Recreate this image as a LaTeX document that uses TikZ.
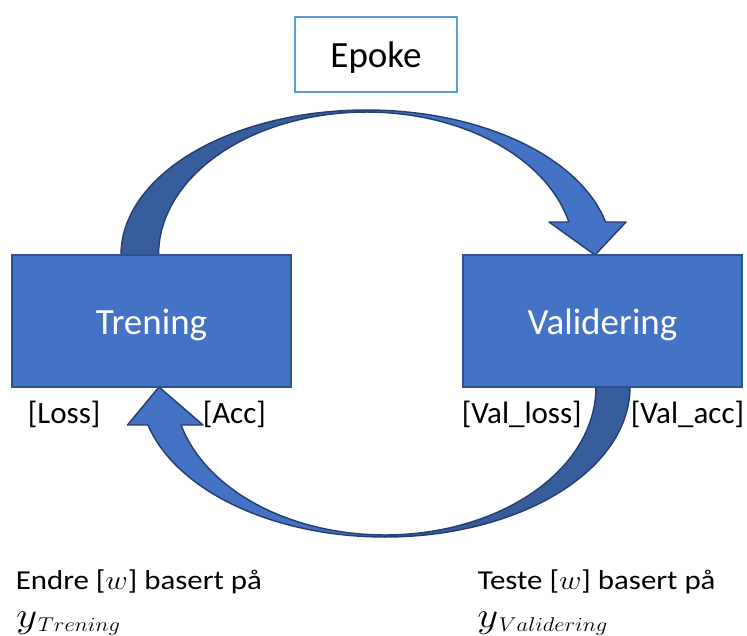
\RequirePackage{fix-cm}
\documentclass[tikz,border=0pt]{standalone}
\usepackage{graphicx}
\usepackage{fontspec}
\setmainfont{Carlito}
\definecolor{boxfill}{HTML}{4472C4}
\definecolor{boxline}{HTML}{2F528F}
\definecolor{arrowlight}{HTML}{4472C4}
\definecolor{arrowdark}{HTML}{385D9D}
\definecolor{arrowline}{HTML}{243F73}
\definecolor{epokeline}{HTML}{5B9BD5}
% slightly widened note text, with a lowered subscript for the y-lines
\newcommand{\widenote}[1]{\scalebox{1.13}[1]{\fontsize{20.5}{25}\selectfont #1}}
\newcommand{\ysubnote}[1]{\scalebox{1.13}[1]{%
  {\fontsize{27}{32}\selectfont$y$}\kern0.5pt%
  \lower3.5pt\hbox{\fontsize{15}{18}\selectfont$#1$}}}
\tikzset{
  procbox/.style={draw=boxline, line width=1.1pt, fill=boxfill, text=white,
    minimum width=209.25pt, minimum height=99pt, inner sep=0pt,
    text height=19.5pt, text depth=0pt,
    font=\fontsize{27.75}{33}\selectfont},
  epokebox/.style={draw=epokeline, line width=1.5pt, fill=white, text=black,
    minimum width=121.5pt, minimum height=56.25pt, inner sep=0pt,
    text height=19.5pt, text depth=0pt,
    font=\fontsize{27.75}{33}\selectfont},
  lbl/.style={inner sep=0pt, anchor=base west, font=\fontsize{23.25}{28}\selectfont},
  btxt/.style={inner sep=0pt, anchor=base west},
  bandlight/.style={fill=arrowlight, draw=arrowline, line width=1.1pt, line join=round},
  banddark/.style={fill=arrowdark, draw=arrowline, line width=1.1pt, line join=round},
}
\begin{document}
\begin{tikzpicture}[x=0.75pt, y=-0.75pt]
\useasboundingbox (0,0) rectangle (747,636);

% upper curved arrow: Trening -> Validering
\path[banddark]
  plot[domain=180:270, samples=60] ({366.5+245.5*cos(\x)},{255+145*sin(\x)})
  -- plot[domain=270:180, samples=60] ({366.5+208*cos(\x)},{255+143*sin(\x)})
  -- cycle;
\path[bandlight]
  plot[domain=270:346.84, samples=60] ({366.5+245.5*cos(\x)},{255+145*sin(\x)})
  -- (626,222) -- (595,255) -- (549,222)
  -- plot[domain=346.66:270, samples=60] ({366.5+208*cos(\x)},{255+143*sin(\x)})
  -- cycle;

% lower curved arrow: Validering -> Trening
\path[banddark]
  plot[domain=0:90, samples=60] ({385+245*cos(\x)},{387+150*sin(\x)})
  -- plot[domain=90:0, samples=60] ({385+211*cos(\x)},{387+148*sin(\x)})
  -- cycle;
\path[bandlight]
  plot[domain=90:165.33, samples=60] ({385+245*cos(\x)},{387+150*sin(\x)})
  -- (127.5,425) -- (159,387) -- (203,425)
  -- plot[domain=165.12:90, samples=60] ({385+211*cos(\x)},{387+148*sin(\x)})
  -- cycle;

% boxes
\node[procbox] (tr) at (151.5,321) {Trening};
\node[procbox] (va) at (602.5,321) {Validering};
\node[epokebox] (ep) at (376,54.5) {Epoke};

% metric labels
\node[lbl] (loss) at (27.5,423) {[Loss]};
\node[lbl] (acc) at (202.5,423) {[Acc]};
\node[lbl] (vloss) at (461.5,423) {[Val\_loss]};
\node[lbl] (vacc) at (630.5,423) {[Val\_acc]};

% notes under the cycle
\node[btxt] (endre) at (15.5,589) {\widenote{Endre [$w$] basert på}};
\node[btxt] (ytr) at (16,627) {\ysubnote{Trening}};
\node[btxt] (teste) at (477.5,589) {\widenote{Teste [$w$] basert på}};
\node[btxt] (yva) at (477,627) {\ysubnote{Validering}};
\end{tikzpicture}
\end{document}
